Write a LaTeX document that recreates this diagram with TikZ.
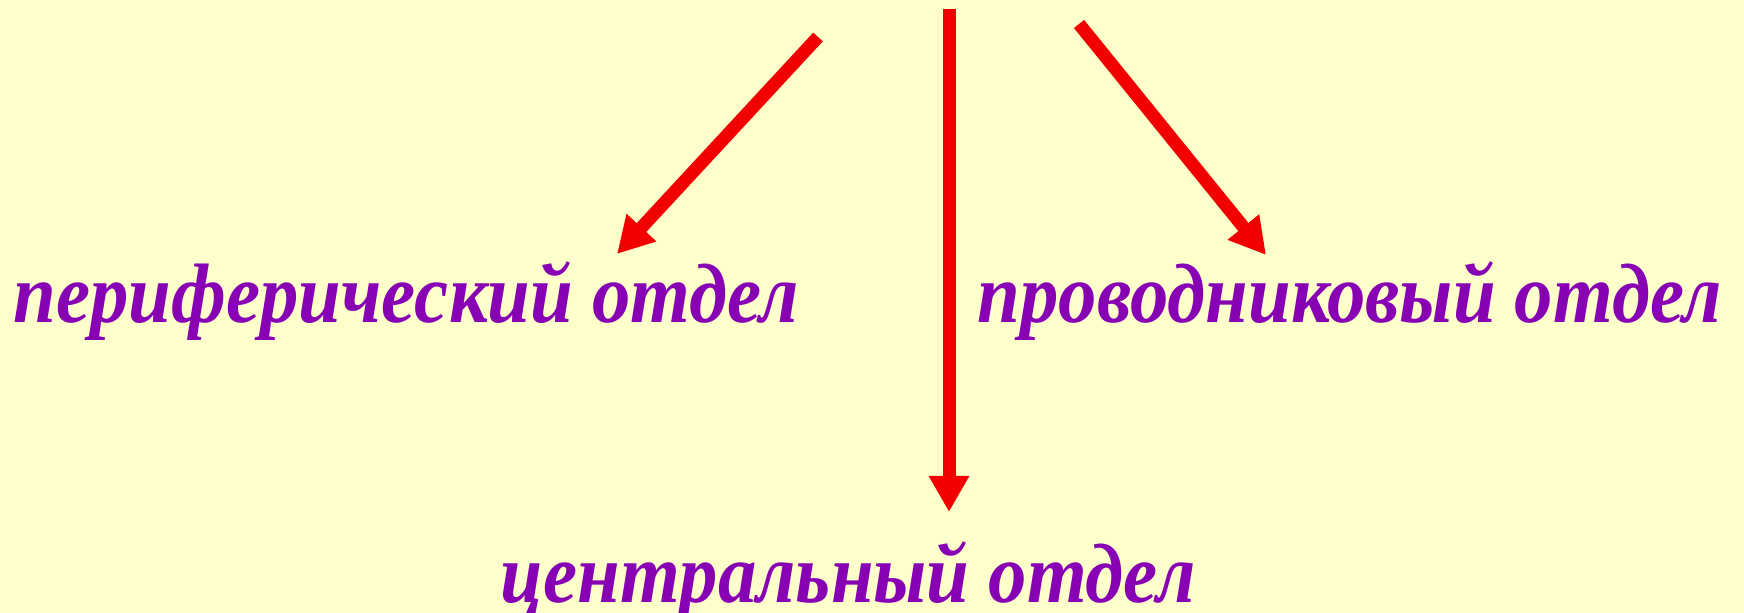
\documentclass[tikz,border=0pt]{standalone}
\usepackage{fontspec}
\setmainfont{Liberation Serif}[FakeStretch=0.91]
\usepackage{tikz}
\usetikzlibrary{arrows.meta}
\usepackage{xcolor}
\definecolor{paleyellow}{HTML}{FFFFCC}
\definecolor{labelpurple}{HTML}{8800B4}
\definecolor{arrowred}{HTML}{F20000}

\begin{document}
\begin{tikzpicture}[>={Triangle[length=3.6mm,width=3.8mm]},line cap=butt,
  dept/.style={inner sep=0pt,anchor=base west,text=labelpurple,font=\bfseries\itshape\fontsize{24}{28}\selectfont},
  feed/.style={->,arrowred,line width=0.13cm}]
\fill[paleyellow] (0,0) rectangle (17.44,6.13);
\useasboundingbox (0,0) rectangle (17.44,6.13);
\node[dept] (peripheral) at (0.13,2.90) {периферический отдел};
\node[dept] (conductive) at (9.77,2.90) {проводниковый отдел};
\node[dept] (central) at (5.00,0.10) {центральный отдел};
\coordinate (topL) at (8.18,5.76);
\coordinate (topM) at (9.49,6.04);
\coordinate (topR) at (10.79,5.89);
\coordinate (tipL) at (6.17,3.59);
\coordinate (tipM) at (9.49,1.01);
\coordinate (tipR) at (12.66,3.58);
\draw[feed] (topL) -- (tipL);
\draw[feed] (topM) -- (tipM);
\draw[feed] (topR) -- (tipR);
\end{tikzpicture}
\end{document}
